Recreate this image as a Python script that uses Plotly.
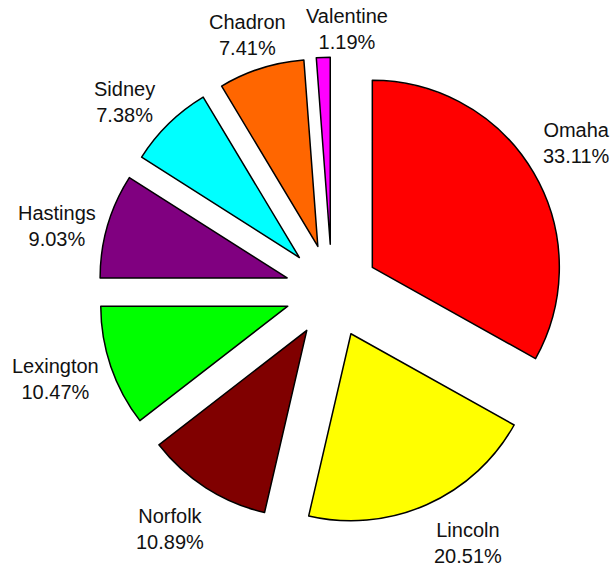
import math
import plotly.graph_objects as go

cities = ["Omaha", "Lincoln", "Norfolk", "Lexington", "Hastings", "Sidney", "Chadron", "Valentine"]
shares = [33.11, 20.51, 10.89, 10.47, 9.03, 7.38, 7.41, 1.19]
colors = ["#FF0000", "#FFFF00", "#800000", "#00FF00", "#800080", "#00FFFF", "#FF6600", "#FF00FF"]

# label placement style: radial distance of label centre (px) and small nudges (px)
label_dist = [287, 293, 291, 290, 281, 280, 269, 261]
label_nudge = [(-3, -3), (17, -16), (-5, -7), (-2, -6), (-5, 13), (-12, 12), (-3, 0), (25, -1)]

W, H = 615, 574
cx, cy = 332, 291     # pie centre in px (from top-left)
radius = 187
pull = 0.25
half = radius * (1 + pull)

fig = go.Figure(go.Pie(
    labels=cities,
    values=shares,
    sort=False,
    direction="clockwise",
    rotation=0,
    pull=[pull] * len(cities),
    marker=dict(colors=colors, line=dict(color="black", width=1.5)),
    textinfo="none",
    hoverinfo="label+percent",
    showlegend=False,
    domain=dict(x=[(cx - half) / W, (cx + half) / W],
                y=[(H - cy - half) / H, (H - cy + half) / H]),
))

total = sum(shares)
cum = 0.0
annotations = []
for name, v, dist, (nx, ny) in zip(cities, shares, label_dist, label_nudge):
    mid = (cum + v / 2) / total * 2 * math.pi
    cum += v
    dx, dy = math.sin(mid), -math.cos(mid)
    px = cx + dist * dx + nx
    py = cy + dist * dy + ny
    annotations.append(dict(
        x=px / W, y=1 - py / H, xref="paper", yref="paper",
        text=f"{name}<br>{v:.2f}%", showarrow=False,
        xanchor="center", yanchor="middle", align="center",
        font=dict(family="Liberation Sans, Arial", size=20, color="#111"),
    ))

fig.update_layout(
    width=W, height=H,
    margin=dict(l=0, r=0, t=0, b=0),
    paper_bgcolor="white",
    plot_bgcolor="white",
    annotations=annotations,
)
fig.write_html(
    "out.html",
    config={"displayModeBar": False},
    post_script="document.body.style.margin='0';document.body.style.overflow='hidden';",
)
